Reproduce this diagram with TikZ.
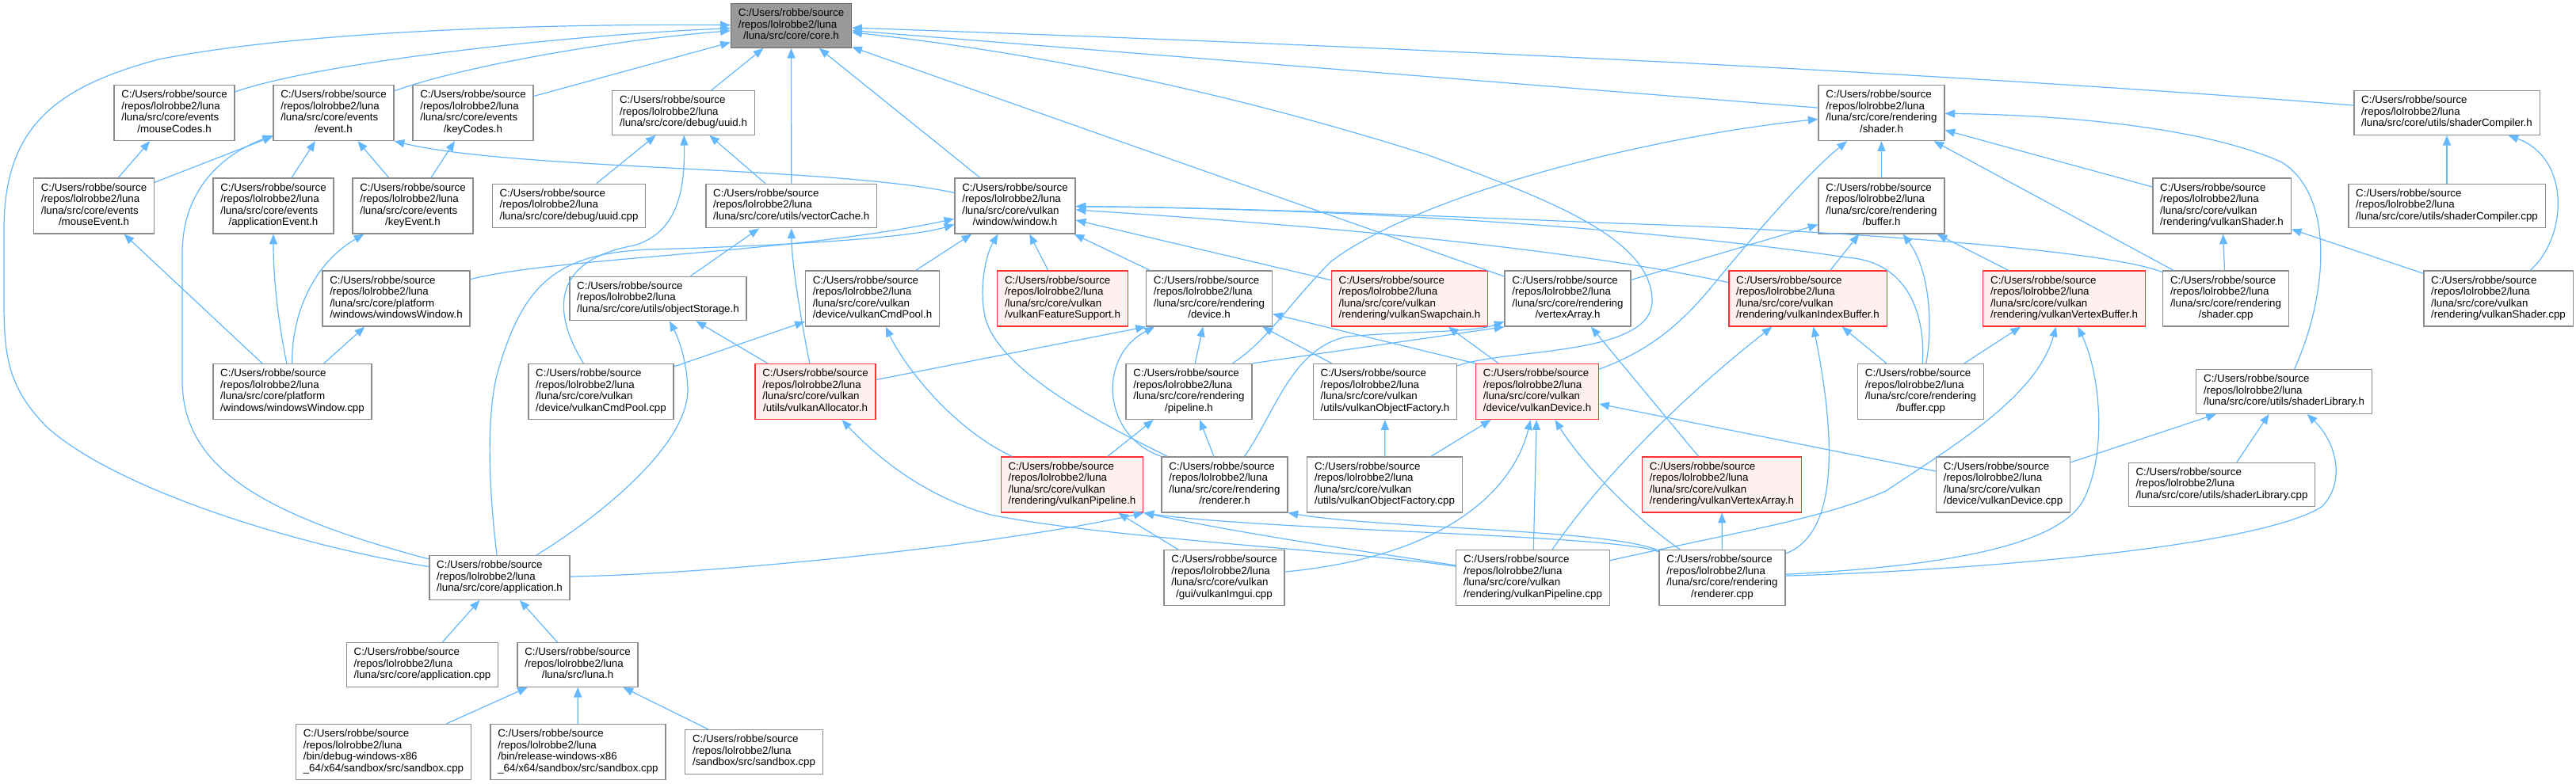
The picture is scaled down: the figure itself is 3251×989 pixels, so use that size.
\documentclass[tikz,border=0pt]{standalone}
\usepackage{fontspec}
\setmainfont{Liberation Sans}
\usetikzlibrary{arrows.meta}

\definecolor{edgeblue}{HTML}{63B8FF}
\definecolor{boxgray}{HTML}{8C8C8C}
\definecolor{truncred}{HTML}{FF3333}
\definecolor{truncfill}{HTML}{FFF0F0}
\definecolor{rootfill}{HTML}{999999}
\definecolor{rootdraw}{HTML}{666666}

\newcommand{\repo}{C:/Users/robbe/source\\/repos/lolrobbe2/luna}
\newcommand{\flines}[2]{\begin{tabular}{@{}l@{}}#1\\\multicolumn{1}{@{}c@{}}{#2}\end{tabular}}

\begin{document}
\begin{tikzpicture}[x=0.75pt, y=-0.75pt,
  file/.style={
    draw=boxgray, fill=white, line width=1pt,
    inner xsep=7pt, inner ysep=4.45pt,
    font={\fontsize{10}{10.9}\selectfont}
  },
  trunc/.style={file, draw=truncred, fill=truncfill},
  root/.style={file, draw=rootdraw, fill=rootfill},
  inc/.style={draw=edgeblue, line width=0.9pt, -{Triangle[length=9.5pt, width=7.5pt]}},
]

\fill[white] (0,0) rectangle (3251,989);
\useasboundingbox (0,0) rectangle (3251,989);

% ===== Row 0 =====
\node[root] (core) at (998.5,32.5) {\flines{\repo}{/luna/src/core/core.h}};

% ===== Row 1 =====
\node[file] (mcodes) at (220,142.5) {\flines{\repo\\/luna/src/core/events}{/mouseCodes.h}};
\node[file] (evt) at (421,142.5) {\flines{\repo\\/luna/src/core/events}{/event.h}};
\node[file] (kcodes) at (597,142.5) {\flines{\repo\\/luna/src/core/events}{/keyCodes.h}};
\node[file] (uuidh) at (862.5,142.5) {\flines{\repo}{/luna/src/core/debug/uuid.h}};
\node[file] (shader) at (2374.5,142.5) {\flines{\repo\\/luna/src/core/rendering}{/shader.h}};
\node[file] (shc) at (3088,142.5) {\flines{\repo}{/luna/src/core/utils/shaderCompiler.h}};

% ===== Row 2 =====
\node[file] (mev) at (118.5,260) {\flines{\repo\\/luna/src/core/events}{/mouseEvent.h}};
\node[file] (aev) at (345,260) {\flines{\repo\\/luna/src/core/events}{/applicationEvent.h}};
\node[file] (kev) at (521,260) {\flines{\repo\\/luna/src/core/events}{/keyEvent.h}};
\node[file] (uuidcpp) at (718,260) {\flines{\repo}{/luna/src/core/debug/uuid.cpp}};
\node[file] (vcache) at (998.75,260) {\flines{\repo}{/luna/src/core/utils/vectorCache.h}};
\node[file] (win) at (1281,260) {\flines{\repo\\/luna/src/core/vulkan}{/window/window.h}};
\node[file] (buffer) at (2374.5,260) {\flines{\repo\\/luna/src/core/rendering}{/buffer.h}};
\node[file] (vsh) at (2804,260) {\flines{\repo\\/luna/src/core/vulkan}{/rendering/vulkanShader.h}};
\node[file] (shccpp) at (3088,260) {\flines{\repo}{/luna/src/core/utils/shaderCompiler.cpp}};

% ===== Row 3 =====
\node[file] (wwh) at (500,377) {\flines{\repo\\/luna/src/core/platform}{/windows/windowsWindow.h}};
\node[file] (objst) at (830.5,377) {\flines{\repo}{/luna/src/core/utils/objectStorage.h}};
\node[file] (vcph) at (1101,377) {\flines{\repo\\/luna/src/core/vulkan}{/device/vulkanCmdPool.h}};
\node[trunc] (vfs) at (1341,377) {\flines{\repo\\/luna/src/core/vulkan}{/vulkanFeatureSupport.h}};
\node[file] (dev) at (1526,377) {\flines{\repo\\/luna/src/core/rendering}{/device.h}};
\node[trunc] (vswap) at (1779,377) {\flines{\repo\\/luna/src/core/vulkan}{/rendering/vulkanSwapchain.h}};
\node[file] (varr) at (1978.5,377) {\flines{\repo\\/luna/src/core/rendering}{/vertexArray.h}};
\node[trunc] (vib) at (2281.5,377) {\flines{\repo\\/luna/src/core/vulkan}{/rendering/vulkanIndexBuffer.h}};
\node[trunc] (vvb) at (2605,377) {\flines{\repo\\/luna/src/core/vulkan}{/rendering/vulkanVertexBuffer.h}};
\node[file] (scpp) at (2809,377) {\flines{\repo\\/luna/src/core/rendering}{/shader.cpp}};
\node[file] (vshcpp) at (3153,377) {\flines{\repo\\/luna/src/core/vulkan}{/rendering/vulkanShader.cpp}};

% ===== Row 4 =====
\node[file] (wwcpp) at (369,494.5) {\flines{\repo\\/luna/src/core/platform}{/windows/windowsWindow.cpp}};
\node[file] (vcpcpp) at (758.5,494.5) {\flines{\repo\\/luna/src/core/vulkan}{/device/vulkanCmdPool.cpp}};
\node[trunc] (valloc) at (1029,494.5) {\flines{\repo\\/luna/src/core/vulkan}{/utils/vulkanAllocator.h}};
\node[file] (pipe) at (1500.5,494.5) {\flines{\repo\\/luna/src/core/rendering}{/pipeline.h}};
\node[file] (vofh) at (1748,494.5) {\flines{\repo\\/luna/src/core/vulkan}{/utils/vulkanObjectFactory.h}};
\node[trunc] (vdev) at (1940,494.5) {\flines{\repo\\/luna/src/core/vulkan}{/device/vulkanDevice.h}};
\node[file] (bcpp) at (2424,494.5) {\flines{\repo\\/luna/src/core/rendering}{/buffer.cpp}};
\node[file] (shlib) at (2882.5,494.5) {\flines{\repo}{/luna/src/core/utils/shaderLibrary.h}};

% ===== Row 5 =====
\node[trunc] (vpiph) at (1353,612) {\flines{\repo\\/luna/src/core/vulkan}{/rendering/vulkanPipeline.h}};
\node[file] (rh) at (1545.5,612) {\flines{\repo\\/luna/src/core/rendering}{/renderer.h}};
\node[file] (vofcpp) at (1747.5,612) {\flines{\repo\\/luna/src/core/vulkan}{/utils/vulkanObjectFactory.cpp}};
\node[trunc] (vvarr) at (2173,612) {\flines{\repo\\/luna/src/core/vulkan}{/rendering/vulkanVertexArray.h}};
\node[file] (vdevcpp) at (2528,612) {\flines{\repo\\/luna/src/core/vulkan}{/device/vulkanDevice.cpp}};
\node[file] (shlibcpp) at (2804,612) {\flines{\repo}{/luna/src/core/utils/shaderLibrary.cpp}};

% ===== Row 6 =====
\node[file] (app) at (630.5,729.5) {\flines{\repo}{/luna/src/core/application.h}};
\node[file] (vimgui) at (1545,729.5) {\flines{\repo\\/luna/src/core/vulkan}{/gui/vulkanImgui.cpp}};
\node[file] (vpipcpp) at (1934.5,729.5) {\flines{\repo\\/luna/src/core/vulkan}{/rendering/vulkanPipeline.cpp}};
\node[file] (rcpp) at (2173.5,729.5) {\flines{\repo\\/luna/src/core/rendering}{/renderer.cpp}};

% ===== Rows 7-8 =====
\node[file] (appcpp) at (533,839.5) {\flines{\repo}{/luna/src/core/application.cpp}};
\node[file] (luna) at (729,839.5) {\flines{\repo}{/luna/src/luna.h}};
\node[file] (sbd) at (484,949.5) {\flines{\repo\\/bin/debug-windows-x86}{\_64/x64/sandbox/src/sandbox.cpp}};
\node[file] (sbr) at (729.5,949.5) {\flines{\repo\\/bin/release-windows-x86}{\_64/x64/sandbox/src/sandbox.cpp}};
\node[file] (sb) at (951.5,949.5) {\flines{\repo}{/sandbox/src/sandbox.cpp}};

% ===== Into core.h =====
\draw[inc] (app) .. controls (380,690) and (150,620) .. (60,540) .. controls (10,490) and (5,450) .. (5,380)
  -- (5,290) .. controls (5,160) and (70,110) .. (200,75) .. controls (400,35) and (750,30) .. (core);
\draw[inc] (mcodes) .. controls (400,80) and (700,45) .. (core);
\draw[inc] (evt) .. controls (580,85) and (760,52) .. (core);
\draw[inc] (kcodes) -- (core);
\draw[inc] (uuidh) -- (core);
\draw[inc] (vcache) -- (core);
\draw[inc] (win) -- (core);
\draw[inc] (varr) -- (core);
\draw[inc] (shader) -- (core);
\draw[inc] (shc) .. controls (2500,95) and (1800,60) .. (core);
\draw[inc] (vofh) .. controls (1900,440) and (2085,450) .. (2085,380) .. controls (2085,300) and (1950,250) .. (1800,195)
  .. controls (1500,100) and (1250,60) .. (core);

% ===== Events =====
\draw[inc] (mev) -- (mcodes);
\draw[inc] (mev) -- (evt);
\draw[inc] (aev) -- (evt);
\draw[inc] (kev) -- (evt);
\draw[inc] (kev) -- (kcodes);
\draw[inc] (win) .. controls (1050,210) and (650,215) .. (evt.south east);
\draw[inc] (app) .. controls (330,650) and (230,590) .. (230,480) -- (230,320) .. controls (230,240) and (280,195) .. (evt);

% ===== Platform =====
\draw[inc] (wwcpp) -- (mev);
\draw[inc] (wwcpp) .. controls (350,400) and (345,350) .. (aev);
\draw[inc] (wwcpp) .. controls (368,390) and (400,330) .. (kev);
\draw[inc] (wwcpp) -- (wwh);
\draw[inc] (wwh) .. controls (700,325) and (1000,320) .. (win);

% ===== Application =====
\draw[inc] (app) .. controls (615,600) and (615,520) .. (628,470) .. controls (660,360) and (700,320) .. (820,315)
  .. controls (1000,310) and (1150,300) .. (win);
\draw[inc] (app) .. controls (760,650) and (870,560) .. (868,490) .. controls (866,450) and (855,425) .. (objst);
\draw[inc] (app) .. controls (900,725) and (1250,690) .. (vpiph.south east);
\draw[inc] (appcpp) -- (app);
\draw[inc] (luna) -- (app);
\draw[inc] (sbd) -- (luna);
\draw[inc] (sbr) -- (luna);
\draw[inc] (sb) -- (luna);

% ===== Debug and utils =====
\draw[inc] (uuidcpp) -- (uuidh);
\draw[inc] (vcache) -- (uuidh);
\draw[inc] (vcpcpp) .. controls (700,400) and (690,330) .. (800,310) .. controls (850,295) and (865,250) .. (uuidh);
\draw[inc] (objst) -- (vcache);
\draw[inc] (valloc) .. controls (1010,400) and (999,330) .. (vcache);
\draw[inc] (valloc) -- (objst);
\draw[inc] (valloc) -- (dev.south west);

% ===== Window =====
\draw[inc] (vcph) -- (win);
\draw[inc] (vfs) -- (win);
\draw[inc] (dev) -- (win);
\draw[inc] (rh) .. controls (1400,540) and (1260,470) .. (1243,400) .. controls (1235,360) and (1245,320) .. (win);
\draw[inc] (vswap) -- (win);
\draw[inc] (vib) .. controls (2100,340) and (1900,300) .. (win);
\draw[inc] (bcpp) .. controls (2430,400) and (2410,330) .. (2330,325) .. controls (2150,298) and (1800,265) .. (win);
\draw[inc] (scpp) .. controls (2660,315) and (2300,290) .. (2040,282) .. controls (1800,272) and (1550,262) .. (win);

% ===== Command pool and device =====
\draw[inc] (vcpcpp) -- (vcph);
\draw[inc] (vpiph) .. controls (1200,540) and (1140,460) .. (vcph);
\draw[inc] (rh.north west) .. controls (1390,550) and (1385,450) .. (dev);
\draw[inc] (pipe) -- (dev);
\draw[inc] (vofh) -- (dev);
\draw[inc] (vdev.north west) -- (dev);

% ===== Pipeline and vertex array =====
\draw[inc] (vpiph) -- (pipe);
\draw[inc] (rh) -- (pipe);
\draw[inc] (rh) .. controls (1610,520) and (1630,440) .. (1700,425) .. controls (1780,418) and (1860,420) .. (varr);
\draw[inc] (pipe.north east) -- (varr.south west);
\draw[inc] (vvarr) -- (varr);

% ===== Shader =====
\draw[inc] (pipe) .. controls (1600,430) and (1625,385) .. (1680,330) .. controls (1800,240) and (2100,170) .. (shader);
\draw[inc] (vdev) .. controls (2090,440) and (2130,400) .. (2170,350) .. controls (2220,290) and (2280,220) .. (shader);
\draw[inc] (buffer) -- (shader);
\draw[inc] (vsh) -- (shader);
\draw[inc] (scpp) -- (shader);
\draw[inc] (shlib) .. controls (2935,380) and (2950,250) .. (2880,205) .. controls (2780,160) and (2600,145) .. (shader);

% ===== Buffer =====
\draw[inc] (varr) -- (buffer);
\draw[inc] (vib) -- (buffer);
\draw[inc] (bcpp) .. controls (2440,410) and (2435,340) .. (buffer);
\draw[inc] (vvb) -- (buffer);

% ===== Shader compiler =====
\draw[inc] (shccpp) -- (shc);
\draw[inc] (vshcpp) .. controls (3240,300) and (3245,200) .. (shc);
\draw[inc] (scpp) -- (vsh);
\draw[inc] (vshcpp) -- (vsh);

% ===== Vulkan device =====
\draw[inc] (vdev) -- (vswap);
\draw[inc] (vofcpp) -- (vofh);
\draw[inc] (vofcpp) -- (vdev);
\draw[inc] (vimgui) .. controls (1850,700) and (1915,600) .. (vdev);
\draw[inc] (vpipcpp) -- (vdev);
\draw[inc] (rcpp) .. controls (2070,660) and (2000,590) .. (vdev);
\draw[inc] (vdevcpp) -- (vdev);

% ===== Index and vertex buffers =====
\draw[inc] (vpipcpp) .. controls (2010,620) and (2100,520) .. (vib);
\draw[inc] (rcpp) .. controls (2330,670) and (2310,520) .. (vib);
\draw[inc] (bcpp) -- (vib);
\draw[inc] (bcpp) -- (vvb);
\draw[inc] (vpipcpp) .. controls (2200,670) and (2300,655) .. (2380,620) .. controls (2470,560) and (2570,500) .. (vvb);
\draw[inc] (rcpp) .. controls (2450,715) and (2600,690) .. (2630,630) .. controls (2660,570) and (2650,470) .. (vvb);
\draw[inc] (rcpp) -- (vvarr);

% ===== Vulkan pipeline =====
\draw[inc] (vimgui) -- (vpiph);
\draw[inc] (vpipcpp) .. controls (1750,700) and (1600,680) .. (vpiph.south east);
\draw[inc] (rcpp) .. controls (2040,675) and (1600,670) .. (vpiph.south east);
\draw[inc] (vpipcpp) .. controls (1700,695) and (1400,680) .. (1250,650) .. controls (1160,625) and (1100,570) .. (valloc);
\draw[inc] (rcpp) .. controls (2030,668) and (1750,668) .. (rh.south east);

% ===== Shader library =====
\draw[inc] (rcpp) .. controls (2500,720) and (2850,690) .. (2930,640) .. controls (2960,610) and (2950,560) .. (shlib);
\draw[inc] (vdevcpp) -- (shlib);
\draw[inc] (shlibcpp) -- (shlib);

\end{tikzpicture}
\end{document}
